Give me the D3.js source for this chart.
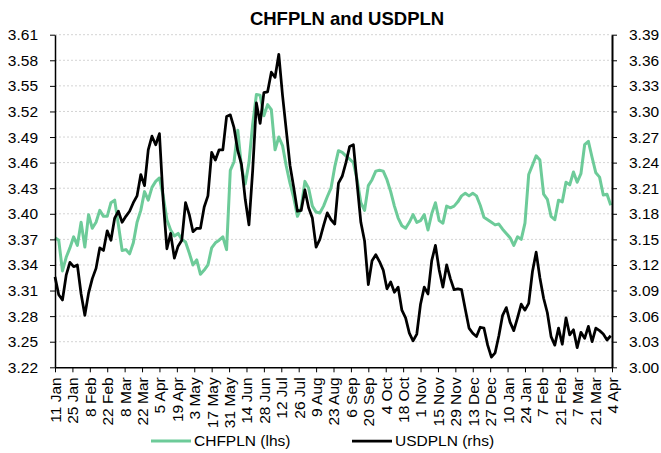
<!DOCTYPE html>
<html>
<head>
<meta charset="utf-8">
<script src="https://cdn.jsdelivr.net/npm/d3@7"></script>
<style>
  body { margin: 0; background: #fff; }
  svg text { font-family: "Liberation Sans", Arial, sans-serif; fill: #000; }
</style>
</head>
<body>
<svg id="chart" width="661" height="453"></svg>
<script>
// series sampled every 3 days from the first date
var startDate = '2010-01-11';
var endDate = '2011-04-04';
var stepDays = 3;

var chfpln = [3.372, 3.369, 3.333, 3.349, 3.360, 3.373, 3.363, 3.390, 3.361, 3.399,
  3.383, 3.390, 3.404, 3.397, 3.397, 3.413, 3.416, 3.387, 3.357, 3.358,
  3.353, 3.366, 3.390, 3.404, 3.426, 3.416, 3.431, 3.438, 3.442, 3.421,
  3.393, 3.381, 3.374, 3.377, 3.370, 3.367, 3.354, 3.340, 3.346, 3.329,
  3.334, 3.340, 3.360, 3.366, 3.369, 3.373, 3.358, 3.451, 3.461, 3.498,
  3.454, 3.435, 3.460, 3.505, 3.540, 3.539, 3.515, 3.528, 3.522, 3.475,
  3.490, 3.480, 3.456, 3.436, 3.419, 3.397, 3.407, 3.438, 3.430, 3.409,
  3.402, 3.401, 3.409, 3.420, 3.430, 3.455, 3.474, 3.472, 3.468, 3.464,
  3.460, 3.440, 3.413, 3.404, 3.433, 3.440, 3.450, 3.451, 3.450, 3.440,
  3.426, 3.409, 3.395, 3.386, 3.383, 3.390, 3.399, 3.390, 3.392, 3.399,
  3.381, 3.400, 3.413, 3.392, 3.389, 3.409, 3.407, 3.409, 3.414, 3.421,
  3.424, 3.421, 3.424, 3.421, 3.410, 3.396, 3.393, 3.390, 3.387, 3.388,
  3.382, 3.377, 3.372, 3.363, 3.373, 3.370, 3.389, 3.446, 3.457, 3.468,
  3.463, 3.423, 3.417, 3.397, 3.393, 3.416, 3.414, 3.437, 3.434, 3.449,
  3.437, 3.447, 3.481, 3.485, 3.466, 3.448, 3.443, 3.422, 3.423, 3.410];

var usdpln = [3.106, 3.085, 3.079, 3.108, 3.123, 3.118, 3.120, 3.086, 3.061, 3.087,
  3.104, 3.116, 3.140, 3.137, 3.160, 3.149, 3.175, 3.183, 3.170, 3.177,
  3.183, 3.193, 3.201, 3.226, 3.213, 3.255, 3.271, 3.261, 3.274, 3.196,
  3.139, 3.157, 3.128, 3.142, 3.149, 3.193, 3.179, 3.159, 3.163, 3.163,
  3.188, 3.201, 3.252, 3.243, 3.255, 3.255, 3.294, 3.296, 3.281, 3.254,
  3.238, 3.197, 3.167, 3.231, 3.310, 3.286, 3.322, 3.323, 3.346, 3.340,
  3.367, 3.319, 3.278, 3.237, 3.211, 3.183, 3.184, 3.208, 3.187, 3.175,
  3.141, 3.150, 3.166, 3.181, 3.173, 3.168, 3.216, 3.224, 3.240, 3.259,
  3.261, 3.215, 3.170, 3.148, 3.097, 3.125, 3.132, 3.124, 3.114, 3.092,
  3.100, 3.088, 3.094, 3.067, 3.058, 3.040, 3.031, 3.039, 3.074, 3.094,
  3.086, 3.125, 3.143, 3.114, 3.094, 3.120, 3.104, 3.091, 3.092, 3.091,
  3.068, 3.046, 3.040, 3.036, 3.047, 3.046, 3.026, 3.012, 3.017, 3.037,
  3.061, 3.070, 3.053, 3.043, 3.058, 3.074, 3.067, 3.075, 3.112, 3.135,
  3.105, 3.081, 3.064, 3.036, 3.026, 3.046, 3.027, 3.058, 3.038, 3.044,
  3.023, 3.041, 3.034, 3.048, 3.030, 3.046, 3.043, 3.039, 3.032, 3.037];

var lhsTicks = [3.22, 3.25, 3.28, 3.31, 3.34, 3.37, 3.40, 3.43, 3.46, 3.49, 3.52, 3.55, 3.58, 3.61];
var rhsTicks = [3.00, 3.03, 3.06, 3.09, 3.12, 3.15, 3.18, 3.21, 3.24, 3.27, 3.30, 3.33, 3.36, 3.39];

var tickDates = ['2010-01-11', '2010-01-25', '2010-02-08', '2010-02-22', '2010-03-08', '2010-03-22',
  '2010-04-05', '2010-04-19', '2010-05-03', '2010-05-17', '2010-05-31', '2010-06-14',
  '2010-06-28', '2010-07-12', '2010-07-26', '2010-08-09', '2010-08-23', '2010-09-06',
  '2010-09-20', '2010-10-04', '2010-10-18', '2010-11-01', '2010-11-15', '2010-11-29',
  '2010-12-13', '2010-12-27', '2011-01-10', '2011-01-24', '2011-02-07', '2011-02-21',
  '2011-03-07', '2011-03-21', '2011-04-04'];

var seriesNames = ['CHFPLN (lhs)', 'USDPLN (rhs)'];
var colors = { chf: '#6dcb99', usd: '#000000' };

var parse = d3.timeParse('%Y-%m-%d');
var fmt = d3.timeFormat('%-d %b');

var margin = { top: 34.7, right: 49, bottom: 85.7, left: 55 };
var W = 661, H = 453;
var plotW = W - margin.left - margin.right;
var plotH = H - margin.top - margin.bottom;

var svg = d3.select('#chart');

var x = d3.scaleTime().domain([parse(startDate), parse(endDate)]).range([0, plotW]);
var yL = d3.scaleLinear().domain([3.22, 3.61]).range([plotH, 0]);
var yR = d3.scaleLinear().domain([3.00, 3.39]).range([plotH, 0]);

var first = parse(startDate);
var dateAt = function(i) { return d3.timeDay.offset(first, i * stepDays); };

var g = svg.append('g').attr('transform', 'translate(' + margin.left + ',' + margin.top + ')');

// dotted gridlines
g.append('g').selectAll('line').data(lhsTicks.slice(1)).enter().append('line')
  .attr('x1', 0).attr('x2', plotW)
  .attr('y1', function(d) { return yL(d); }).attr('y2', function(d) { return yL(d); })
  .attr('stroke', '#d4d4d4').attr('stroke-width', 1).attr('stroke-dasharray', '2,2');

// lines
var lineL = d3.line().x(function(d, i) { return x(dateAt(i)); }).y(function(d) { return yL(d); });
var lineR = d3.line().x(function(d, i) { return x(dateAt(i)); }).y(function(d) { return yR(d); });

g.append('path').datum(chfpln).attr('d', lineL)
  .attr('fill', 'none').attr('stroke', colors.chf).attr('stroke-width', 3).attr('stroke-linejoin', 'round');
g.append('path').datum(usdpln).attr('d', lineR)
  .attr('fill', 'none').attr('stroke', colors.usd).attr('stroke-width', 2.75).attr('stroke-linejoin', 'round');

// axes
var axL = g.append('g')
  .call(d3.axisLeft(yL).tickValues(lhsTicks).tickFormat(d3.format('.2f')).tickSize(5).tickSizeOuter(0).tickPadding(12));
var axR = g.append('g').attr('transform', 'translate(' + plotW + ',0)')
  .call(d3.axisRight(yR).tickValues(rhsTicks).tickFormat(d3.format('.2f')).tickSize(5).tickSizeOuter(0).tickPadding(12));
var axB = g.append('g').attr('transform', 'translate(0,' + plotH + ')')
  .call(d3.axisBottom(x).tickValues(tickDates.map(parse)).tickFormat(fmt).tickSize(5).tickSizeOuter(0));

[axL, axR, axB].forEach(function(a) {
  a.select('.domain').attr('stroke', '#000').attr('stroke-width', 1.5);
  a.selectAll('.tick line').attr('stroke', '#000');
  a.selectAll('text').style('font-size', '15.5px');
});
axR.select('.domain').attr('stroke-width', 2);

axB.selectAll('text')
  .attr('transform', 'rotate(-90)')
  .attr('x', -10).attr('y', 0).attr('dy', '0.35em')
  .style('text-anchor', 'end');

// title
svg.append('text').attr('x', 347).attr('y', 25)
  .attr('text-anchor', 'middle').style('font-size', '18.5px').style('font-weight', 'bold')
  .text('CHFPLN and USDPLN');

// legend
var legend = svg.append('g').attr('transform', 'translate(0,441)');
var items = [
  { name: seriesNames[0], color: colors.chf, x: 151, w: 3 },
  { name: seriesNames[1], color: colors.usd, x: 352, w: 2.75 }
];
items.forEach(function(it) {
  legend.append('line').attr('x1', it.x).attr('x2', it.x + 40).attr('y1', 0).attr('y2', 0)
    .attr('stroke', it.color).attr('stroke-width', it.w);
  legend.append('text').attr('x', it.x + 43).attr('y', 0).attr('dy', '0.35em')
    .style('font-size', '15.5px').text(it.name);
});
</script>
</body>
</html>
